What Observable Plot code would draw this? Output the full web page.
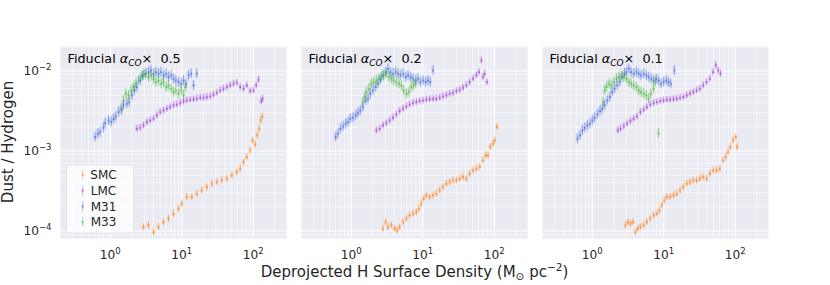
<!DOCTYPE html>
<html>
<head>
<meta charset="utf-8">
<script src="https://cdn.jsdelivr.net/npm/d3@7"></script>
<script src="https://cdn.jsdelivr.net/npm/@observablehq/plot@0.6"></script>
<style>
  html, body { margin: 0; padding: 0; background: white; }
  #chart { width: 830px; height: 285px; }
</style>
</head>
<body>
<div id="chart"></div>
<script>
// Panels: fiducial alpha_CO scaling factor
const panels = ["0.5", "0.2", "0.1"];
const galaxies = ["SMC", "LMC", "M31", "M33"];
const colors = ["#ff7f0e", "#a23fd8", "#4169e1", "#48b83a"];
const errorDex = [0.045, 0.045, 0.065, 0.065];

// Axis ticks
const xMajor = [1, 10, 100];
const xMinor = [0.3, 0.4, 0.5, 0.6, 0.7, 0.8, 0.9, 2, 3, 4, 5, 6, 7, 8, 9, 20, 30, 40, 50, 60, 70, 80, 90, 200];
const yMajor = [1e-4, 1e-3, 1e-2];
const yMinor = [9e-5, 2e-4, 3e-4, 4e-4, 5e-4, 6e-4, 7e-4, 8e-4, 9e-4, 2e-3, 3e-3, 4e-3, 5e-3, 6e-3, 7e-3, 8e-3, 9e-3, 2e-2];

// Values, in log10 units: log10 Σ_H (M☉ pc^-2) and log10 (Dust/Hydrogen)
// ---- Fiducial αCO × 0.5
const smc05_logSigma = [0.466,0.536,0.606,0.676,0.746,0.816,0.886,0.956,1.002,1.072,1.142,1.212,1.282,1.352,1.422,1.492,1.562,1.632,1.702,1.772,1.818,1.865,1.911,1.958,1.991,2.028,2.056,2.084,2.107,2.126];
const smc05_logDGR   = [-3.952,-3.931,-4.015,-3.952,-3.890,-3.848,-3.785,-3.723,-3.660,-3.577,-3.577,-3.535,-3.494,-3.452,-3.410,-3.390,-3.369,-3.348,-3.306,-3.265,-3.223,-3.140,-3.077,-2.994,-2.869,-2.919,-2.806,-2.723,-2.619,-2.569];
const lmc05_logSigma = [0.373,0.420,0.466,0.513,0.559,0.606,0.653,0.699,0.746,0.793,0.839,0.886,0.932,0.979,1.026,1.072,1.119,1.166,1.212,1.259,1.305,1.352,1.399,1.445,1.492,1.538,1.585,1.632,1.678,1.725,1.772,1.818,1.865,1.911,1.958,2.004,2.042,2.075,2.112,2.131];
const lmc05_logDGR   = [-2.723,-2.711,-2.681,-2.640,-2.619,-2.598,-2.556,-2.515,-2.494,-2.473,-2.452,-2.431,-2.419,-2.402,-2.381,-2.369,-2.360,-2.356,-2.348,-2.335,-2.335,-2.327,-2.319,-2.298,-2.273,-2.244,-2.223,-2.202,-2.181,-2.160,-2.148,-2.202,-2.223,-2.181,-2.252,-2.244,-2.181,-2.110,-2.381,-2.348];
const m3105_logSigma = [-0.210,-0.172,-0.140,-0.093,-0.070,-0.023,0.014,0.047,0.079,0.117,0.154,0.186,0.233,0.266,0.303,0.340,0.373,0.420,0.452,0.490,0.536,0.569,0.606,0.639,0.676,0.709,0.746,0.783,0.816,0.853,0.886,0.918,0.956,0.993,1.026,1.063,1.096,1.133,1.166,1.212];
const m3105_logDGR   = [-2.827,-2.785,-2.765,-2.710,-2.652,-2.619,-2.640,-2.598,-2.569,-2.515,-2.473,-2.431,-2.410,-2.390,-2.306,-2.244,-2.202,-2.119,-2.056,-2.035,-2.015,-1.994,-2.035,-2.015,-2.035,-2.015,-2.056,-2.035,-2.077,-2.056,-2.098,-2.119,-2.140,-2.160,-2.119,-2.160,-2.056,-2.035,-2.181,-2.035];
const m3305_logSigma = [0.163,0.186,0.219,0.256,0.294,0.326,0.359,0.396,0.434,0.466,0.499,0.536,0.573,0.606,0.639,0.676,0.713,0.746,0.783,0.816,0.853,0.886,0.918,0.956,0.993,1.026,1.049];
const m3305_logDGR   = [-2.494,-2.369,-2.285,-2.306,-2.244,-2.202,-2.160,-2.119,-2.077,-2.056,-2.035,-2.077,-2.056,-2.098,-2.140,-2.119,-2.160,-2.140,-2.202,-2.181,-2.223,-2.265,-2.244,-2.285,-2.244,-2.306,-2.202];
// ---- Fiducial αCO × 0.2
const smc02_logSigma = [0.445,0.483,0.515,0.562,0.608,0.641,0.678,0.725,0.772,0.818,0.865,0.911,0.949,0.981,1.014,1.051,1.098,1.145,1.191,1.238,1.284,1.331,1.378,1.424,1.471,1.517,1.564,1.611,1.657,1.704,1.751,1.797,1.844,1.881,1.914,1.946,1.984,2.007,2.040];
const smc02_logDGR   = [-3.973,-3.890,-3.952,-3.931,-3.973,-3.994,-3.952,-3.890,-3.848,-3.806,-3.785,-3.765,-3.723,-3.660,-3.598,-3.556,-3.577,-3.556,-3.535,-3.494,-3.452,-3.410,-3.390,-3.369,-3.369,-3.348,-3.327,-3.348,-3.285,-3.244,-3.223,-3.202,-3.119,-3.056,-3.056,-2.952,-2.910,-2.869,-2.702];
const lmc02_logSigma = [0.352,0.399,0.445,0.492,0.538,0.585,0.632,0.678,0.725,0.772,0.818,0.865,0.911,0.958,1.005,1.051,1.098,1.145,1.191,1.238,1.284,1.331,1.378,1.424,1.471,1.517,1.564,1.611,1.657,1.704,1.751,1.788,1.821,1.844,1.867,1.900];
const lmc02_logDGR   = [-2.744,-2.723,-2.681,-2.652,-2.619,-2.585,-2.544,-2.502,-2.473,-2.444,-2.419,-2.402,-2.390,-2.377,-2.369,-2.360,-2.352,-2.348,-2.348,-2.335,-2.319,-2.306,-2.285,-2.277,-2.252,-2.235,-2.210,-2.181,-2.140,-2.098,-2.056,-2.015,-1.869,-2.077,-2.035,-2.140];
const m3102_logSigma = [-0.217,-0.184,-0.151,-0.114,-0.077,-0.044,-0.012,0.026,0.063,0.096,0.128,0.165,0.203,0.235,0.268,0.305,0.343,0.375,0.408,0.445,0.483,0.515,0.548,0.585,0.622,0.655,0.688,0.725,0.762,0.795,0.832,0.865,0.902,0.935,0.967,1.005,1.042,1.075,1.107,1.145];
const m3102_logDGR   = [-2.827,-2.785,-2.723,-2.694,-2.660,-2.640,-2.598,-2.585,-2.556,-2.527,-2.494,-2.452,-2.369,-2.348,-2.285,-2.244,-2.202,-2.160,-2.110,-2.056,-2.015,-1.973,-2.015,-2.035,-2.015,-2.035,-2.056,-2.035,-2.077,-2.056,-2.077,-2.098,-2.119,-2.098,-2.140,-2.119,-2.140,-2.119,-2.140,-1.994];
const m3302_logSigma = [0.165,0.189,0.212,0.249,0.282,0.315,0.352,0.389,0.422,0.455,0.492,0.529,0.562,0.594,0.632,0.669,0.702,0.734,0.772,0.809,0.842,0.874,0.902];
const m3302_logDGR   = [-2.390,-2.327,-2.265,-2.223,-2.160,-2.140,-2.119,-2.098,-2.077,-2.056,-2.035,-2.077,-2.098,-2.119,-2.140,-2.160,-2.181,-2.244,-2.285,-2.265,-2.202,-2.181,-2.160];
// ---- Fiducial αCO × 0.1
const smc01_logSigma = [0.465,0.498,0.535,0.572,0.604,0.637,0.674,0.720,0.766,0.813,0.859,0.905,0.942,0.975,1.007,1.044,1.090,1.137,1.183,1.229,1.275,1.322,1.368,1.414,1.461,1.507,1.553,1.600,1.646,1.692,1.738,1.785,1.831,1.868,1.900,1.933,1.970,2.007,2.025];
const smc01_logDGR   = [-3.931,-3.890,-3.910,-3.890,-4.015,-3.973,-3.952,-3.931,-3.890,-3.848,-3.806,-3.785,-3.744,-3.681,-3.619,-3.577,-3.577,-3.556,-3.535,-3.494,-3.452,-3.410,-3.390,-3.369,-3.369,-3.348,-3.327,-3.348,-3.285,-3.244,-3.244,-3.223,-3.119,-3.077,-3.015,-2.952,-2.869,-2.827,-2.952];
const lmc01_logSigma = [0.359,0.396,0.442,0.488,0.535,0.581,0.627,0.674,0.720,0.766,0.813,0.859,0.905,0.951,0.998,1.044,1.090,1.137,1.183,1.229,1.275,1.322,1.368,1.414,1.461,1.507,1.553,1.600,1.646,1.692,1.729,1.762,1.794];
const lmc01_logDGR   = [-2.744,-2.723,-2.694,-2.660,-2.627,-2.598,-2.569,-2.515,-2.485,-2.452,-2.419,-2.402,-2.390,-2.377,-2.369,-2.360,-2.360,-2.352,-2.348,-2.335,-2.327,-2.306,-2.285,-2.265,-2.244,-2.223,-2.181,-2.140,-2.098,-2.015,-1.931,-1.994,-2.035];
const m3101_logSigma = [-0.206,-0.169,-0.137,-0.104,-0.067,-0.030,0.002,0.035,0.072,0.109,0.141,0.174,0.211,0.248,0.280,0.313,0.350,0.387,0.419,0.451,0.479,0.512,0.544,0.581,0.618,0.650,0.683,0.720,0.757,0.789,0.826,0.859,0.896,0.928,0.961,0.998,1.035,1.067,1.100,1.150];
const m3101_logDGR   = [-2.848,-2.806,-2.744,-2.710,-2.681,-2.660,-2.619,-2.585,-2.544,-2.502,-2.473,-2.431,-2.369,-2.327,-2.265,-2.223,-2.181,-2.140,-2.077,-2.035,-2.015,-1.973,-2.015,-2.035,-2.015,-2.035,-2.056,-2.035,-2.056,-2.077,-2.098,-2.119,-2.098,-2.119,-2.160,-2.140,-2.119,-2.140,-2.160,-1.994];
const m3301_logSigma = [0.155,0.174,0.201,0.234,0.266,0.303,0.340,0.373,0.405,0.442,0.479,0.512,0.544,0.581,0.618,0.650,0.683,0.720,0.757,0.789,0.822,0.859,0.882,0.928];
const m3301_logDGR   = [-2.390,-2.244,-2.202,-2.160,-2.181,-2.140,-2.098,-2.077,-2.056,-2.077,-2.098,-2.140,-2.160,-2.181,-2.202,-2.244,-2.265,-2.285,-2.306,-2.348,-2.285,-2.223,-2.140,-2.777];

const series = [
  ["0.5", "SMC", smc05_logSigma, smc05_logDGR], ["0.5", "LMC", lmc05_logSigma, lmc05_logDGR],
  ["0.5", "M31", m3105_logSigma, m3105_logDGR], ["0.5", "M33", m3305_logSigma, m3305_logDGR],
  ["0.2", "SMC", smc02_logSigma, smc02_logDGR], ["0.2", "LMC", lmc02_logSigma, lmc02_logDGR],
  ["0.2", "M31", m3102_logSigma, m3102_logDGR], ["0.2", "M33", m3302_logSigma, m3302_logDGR],
  ["0.1", "SMC", smc01_logSigma, smc01_logDGR], ["0.1", "LMC", lmc01_logSigma, lmc01_logDGR],
  ["0.1", "M31", m3101_logSigma, m3101_logDGR], ["0.1", "M33", m3301_logSigma, m3301_logDGR]
];

const rows = [];
for (const g of galaxies) {
  for (const [panel, gal, lx, ly] of series) {
    if (gal !== g) continue;
    const e = errorDex[galaxies.indexOf(gal)];
    lx.forEach((v, i) => rows.push({
      panel, galaxy: gal,
      x: 10 ** v, y: 10 ** ly[i],
      x1: 10 ** (v - 0.022), x2: 10 ** (v + 0.022),
      lo: 10 ** (ly[i] - e), hi: 10 ** (ly[i] + e),
      blo: 10 ** (ly[i] - e * 0.75), bhi: 10 ** (ly[i] + e * 0.75)
    }));
  }
}

const powFmt = d => "10^" + String(Math.round(Math.log10(d))).replace("-", "−");

const W = 830, H = 285, ML = 60, MR = 62, MT = 46, MB = 47;

const chart = Plot.plot({
  width: W, height: H,
  marginLeft: ML, marginRight: MR, marginTop: MT, marginBottom: MB,
  style: {fontFamily: "DejaVu Sans, sans-serif", fontSize: "12.2px", color: "#262626", background: "white", overflow: "visible"},
  fx: {domain: panels, axis: null, paddingInner: 0.0642, paddingOuter: 0, label: null},
  x: {type: "log", domain: [10 ** -0.695, 10 ** 2.465], ticks: xMajor, tickFormat: powFmt, tickSize: 0, tickPadding: 12, label: null},
  y: {type: "log", domain: [10 ** -4.094, 10 ** -1.694], ticks: yMajor, tickFormat: powFmt, tickSize: 0, tickPadding: 9, label: null},
  color: {domain: galaxies, range: colors},
  marks: [
    Plot.frame({fill: "#EAEAF2", stroke: "none"}),
    Plot.ruleX(xMinor, {stroke: "white", strokeWidth: 0.6}),
    Plot.ruleY(yMinor, {stroke: "white", strokeWidth: 0.6}),
    Plot.ruleX(xMajor, {stroke: "white", strokeWidth: 1.2}),
    Plot.ruleY(yMajor, {stroke: "white", strokeWidth: 1.2}),
    Plot.rect(rows, {fx: "panel", x1: "x1", x2: "x2", y1: "blo", y2: "bhi", fill: "galaxy", fillOpacity: 0.13}),
    Plot.ruleX(rows, {fx: "panel", x: "x", y1: "lo", y2: "hi", stroke: "galaxy", strokeOpacity: 0.5, strokeWidth: 0.9}),
    Plot.dot(rows, {fx: "panel", x: "x", y: "y", fill: "galaxy", r: 1.1, fillOpacity: 0.65}),
    Plot.text(panels, {fx: d => d, text: d => `Fiducial αCO × ${d}`, frameAnchor: "top-left", lineAnchor: "top", textAnchor: "start", dx: 7, dy: 7, fontSize: 12.8, fill: "black"})
  ]
});

document.getElementById("chart").appendChild(chart);

const svg = d3.select(chart);

// Tick labels: 10 with a raised exponent
svg.selectAll("text").filter(function () { return /^10\^/.test(this.textContent); }).each(function () {
  const exp = this.textContent.slice(3);
  const t = d3.select(this);
  t.text(null);
  t.append("tspan").text("10");
  t.append("tspan").attr("font-size", "0.7em").attr("dy", -5).text(exp);
});

// Title text with italic alpha and subscript CO
svg.selectAll("text").filter(function () { return this.textContent.startsWith("Fiducial"); }).each(function () {
  const val = this.textContent.split("×")[1].trim();
  const t = d3.select(this);
  t.text(null);
  t.append("tspan").text("Fiducial ");
  t.append("tspan").attr("font-style", "italic").text("α");
  t.append("tspan").attr("font-style", "italic").attr("font-size", "0.7em").attr("dy", 3).text("CO");
  t.append("tspan").attr("dy", -3).text("×  " + val);
});

// Legend inside the first panel
const lg = svg.append("g").attr("font-family", "DejaVu Sans, sans-serif").attr("font-size", 12);
const lx0 = ML + 6.5, lyB = H - MB - 5;
lg.append("rect").attr("x", lx0).attr("y", lyB - 68).attr("width", 67).attr("height", 68)
  .attr("rx", 3).attr("fill", "white").attr("fill-opacity", 0.82).attr("stroke", "#d8d8d8").attr("stroke-opacity", 0.6);
galaxies.forEach((g, i) => {
  const yy = lyB - 58 + i * 15.7;
  lg.append("line").attr("x1", lx0 + 16.2).attr("x2", lx0 + 16.2).attr("y1", yy - 5).attr("y2", yy + 5)
    .attr("stroke", colors[i]).attr("stroke-opacity", 0.5).attr("stroke-width", 0.9);
  lg.append("circle").attr("cx", lx0 + 16.2).attr("cy", yy).attr("r", 1.1).attr("fill", colors[i]).attr("fill-opacity", 0.65);
  lg.append("text").attr("x", lx0 + 37).attr("y", yy).attr("dy", "0.36em").attr("fill", "#262626").text(g);
});

// Axis labels
svg.append("text").attr("transform", `translate(13,${(MT + H - MB) / 2}) rotate(-90)`)
  .attr("text-anchor", "middle").attr("font-family", "DejaVu Sans, sans-serif").attr("font-size", 15)
  .attr("fill", "#262626").text("Dust / Hydrogen");
const xl = svg.append("text").attr("x", 414.5).attr("y", 277).attr("text-anchor", "middle")
  .attr("font-family", "DejaVu Sans, sans-serif").attr("font-size", 15).attr("fill", "#262626");
xl.append("tspan").text("Deprojected H Surface Density (M");
xl.append("tspan").attr("font-size", "0.7em").attr("dy", 3).text("⊙");
xl.append("tspan").attr("dy", -3).text(" pc");
xl.append("tspan").attr("font-size", "0.7em").attr("dy", -6).text("−2");
xl.append("tspan").attr("dy", 6).text(")");
</script>
</body>
</html>
